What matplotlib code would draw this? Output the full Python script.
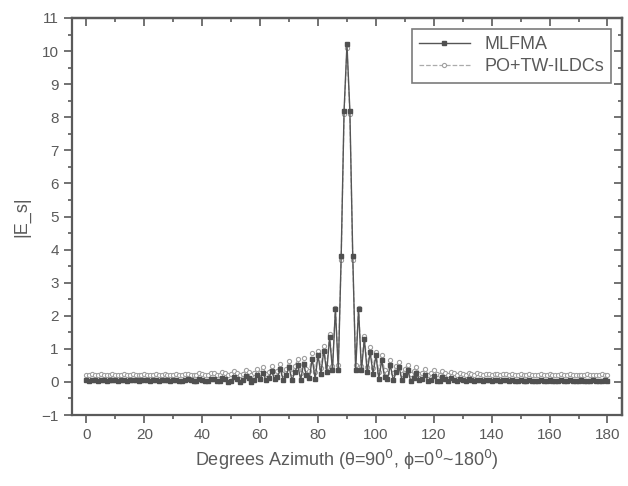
import numpy as np
import matplotlib
matplotlib.use('Agg')
import matplotlib.pyplot as plt
from matplotlib.ticker import MultipleLocator

plt.rcParams['font.family'] = ['Liberation Sans', 'DejaVu Sans']

# azimuth angle, 1 degree steps
phi = np.arange(0, 181)

# MLFMA |E_s|
mlfma = [
    0.05, 0.04, 0.06, 0.05, 0.04, 0.06, 0.05, 0.04, 0.05, 0.06,
    0.05, 0.04, 0.05, 0.06, 0.04, 0.05, 0.06, 0.05, 0.04, 0.05,
    0.06, 0.05, 0.04, 0.05, 0.06, 0.04, 0.05, 0.06, 0.05, 0.04,
    0.05, 0.07, 0.04, 0.03, 0.06, 0.08, 0.05, 0.02, 0.04, 0.09,
    0.06, 0.02, 0.03, 0.10, 0.08, 0.02, 0.03, 0.12, 0.09, 0.01,
    0.04, 0.14, 0.10, 0.01, 0.05, 0.17, 0.11, 0.00, 0.06, 0.20,
    0.10, 0.28, 0.05, 0.12, 0.32, 0.08, 0.15, 0.38, 0.06, 0.20,
    0.45, 0.05, 0.30, 0.50, 0.06, 0.55, 0.20, 0.12, 0.70, 0.10,
    0.80, 0.25, 0.95, 0.30, 1.35, 0.35, 2.20, 0.35, 3.80, 8.20,
    10.20,
    8.20, 3.80, 0.35, 2.20, 0.35, 1.30, 0.30, 0.90, 0.25, 0.80,
    0.10, 0.65, 0.15, 0.10, 0.50, 0.05, 0.30, 0.45, 0.05, 0.20,
    0.35, 0.04, 0.12, 0.28, 0.05, 0.08, 0.22, 0.03, 0.06, 0.18,
    0.04, 0.02, 0.14, 0.08, 0.02, 0.11, 0.07, 0.03, 0.10, 0.06,
    0.03, 0.08, 0.05, 0.04, 0.07, 0.05, 0.03, 0.06, 0.05, 0.04,
    0.06, 0.05, 0.03, 0.05, 0.06, 0.04, 0.05, 0.03, 0.04, 0.05,
    0.04, 0.03, 0.05, 0.04, 0.03, 0.04, 0.05, 0.03, 0.04, 0.05,
    0.04, 0.03, 0.04, 0.05, 0.03, 0.04, 0.05, 0.04, 0.03, 0.04,
    0.05, 0.04, 0.03, 0.04, 0.05, 0.04, 0.03, 0.04, 0.05, 0.04,
]

# PO+TW-ILDCs |E_s|
po_tw = [
    0.22, 0.21, 0.23, 0.22, 0.21, 0.23, 0.22, 0.21, 0.22, 0.23,
    0.22, 0.21, 0.22, 0.23, 0.21, 0.22, 0.23, 0.22, 0.21, 0.22,
    0.23, 0.22, 0.21, 0.22, 0.23, 0.21, 0.22, 0.23, 0.22, 0.21,
    0.22, 0.24, 0.21, 0.20, 0.23, 0.25, 0.22, 0.20, 0.22, 0.26,
    0.24, 0.20, 0.21, 0.28, 0.26, 0.20, 0.22, 0.30, 0.27, 0.20,
    0.23, 0.32, 0.28, 0.21, 0.24, 0.35, 0.30, 0.21, 0.26, 0.38,
    0.28, 0.45, 0.24, 0.30, 0.48, 0.26, 0.33, 0.55, 0.25, 0.38,
    0.62, 0.26, 0.48, 0.68, 0.28, 0.72, 0.40, 0.32, 0.88, 0.30,
    0.95, 0.42, 1.10, 0.45, 1.45, 0.48, 2.25, 0.50, 3.70, 8.10,
    10.10,
    8.10, 3.70, 0.50, 2.25, 0.48, 1.40, 0.45, 1.05, 0.42, 0.92,
    0.30, 0.80, 0.35, 0.28, 0.65, 0.26, 0.48, 0.60, 0.25, 0.40,
    0.52, 0.24, 0.32, 0.45, 0.24, 0.28, 0.40, 0.22, 0.26, 0.36,
    0.23, 0.22, 0.32, 0.27, 0.21, 0.30, 0.26, 0.22, 0.28, 0.25,
    0.22, 0.27, 0.24, 0.22, 0.26, 0.24, 0.22, 0.25, 0.23, 0.22,
    0.24, 0.23, 0.21, 0.23, 0.24, 0.22, 0.23, 0.21, 0.22, 0.23,
    0.22, 0.21, 0.23, 0.22, 0.21, 0.22, 0.23, 0.21, 0.22, 0.23,
    0.22, 0.21, 0.22, 0.23, 0.21, 0.22, 0.23, 0.22, 0.21, 0.22,
    0.21, 0.22, 0.23, 0.21, 0.22, 0.21, 0.22, 0.23, 0.22, 0.21,
]

grey = '#5a5a5a'

fig = plt.figure(figsize=(6.28, 4.86), dpi=100)
ax = fig.add_axes([0.1146, 0.146, 0.8758, 0.817])

ax.plot(phi, po_tw, linestyle='--', color='#ababab', lw=0.9,
        marker='o', ms=3, mfc='white', mec='#a0a0a0', mew=0.8, label='PO+TW-ILDCs', zorder=2)
ax.plot(phi, mlfma, linestyle='-', color='#555555', lw=1.0,
        marker='s', ms=2.3, mfc='#505050', mec='#505050', label='MLFMA', zorder=3)

ax.set_xlim(-5, 185)
ax.set_ylim(-1, 11)
ax.xaxis.set_major_locator(MultipleLocator(20))
ax.xaxis.set_minor_locator(MultipleLocator(10))
ax.yaxis.set_major_locator(MultipleLocator(1))
ax.yaxis.set_minor_locator(MultipleLocator(0.5))

for s in ax.spines.values():
    s.set_color(grey)
    s.set_linewidth(1.6)

ax.tick_params(which='both', direction='out', colors=grey, labelcolor=grey,
               labelsize=11, width=1.2)
ax.tick_params(which='major', length=6)
ax.tick_params(which='minor', length=3)

# inward ticks on top and right
axt = ax.secondary_xaxis('top')
axt.xaxis.set_major_locator(MultipleLocator(20))
axt.xaxis.set_minor_locator(MultipleLocator(10))
axt.tick_params(which='both', direction='in', colors=grey, labeltop=False, width=1.2)
axt.tick_params(which='major', length=6)
axt.tick_params(which='minor', length=3)
axr = ax.secondary_yaxis('right')
axr.yaxis.set_major_locator(MultipleLocator(1))
axr.yaxis.set_minor_locator(MultipleLocator(0.5))
axr.tick_params(which='both', direction='in', colors=grey, labelright=False, width=1.2)
axr.tick_params(which='major', length=6)
axr.tick_params(which='minor', length=3)
for s in list(axt.spines.values()) + list(axr.spines.values()):
    s.set_color(grey)
    s.set_linewidth(1.6)

ax.set_xlabel('Degrees Azimuth (θ=90$^0$, ϕ=0$^0$~180$^0$)', fontsize=13, color=grey)
ax.set_ylabel('|E_s|', fontsize=13, color=grey, labelpad=8)

handles, labels = ax.get_legend_handles_labels()
leg = ax.legend(handles[::-1], labels[::-1], loc='upper right', fontsize=13,
                frameon=True, fancybox=False, edgecolor=grey, borderaxespad=0.6,
                handlelength=2.8, labelcolor=grey, borderpad=0.4, labelspacing=0.3)
leg.get_frame().set_linewidth(1.2)

fig.savefig('out.png', dpi=100)
